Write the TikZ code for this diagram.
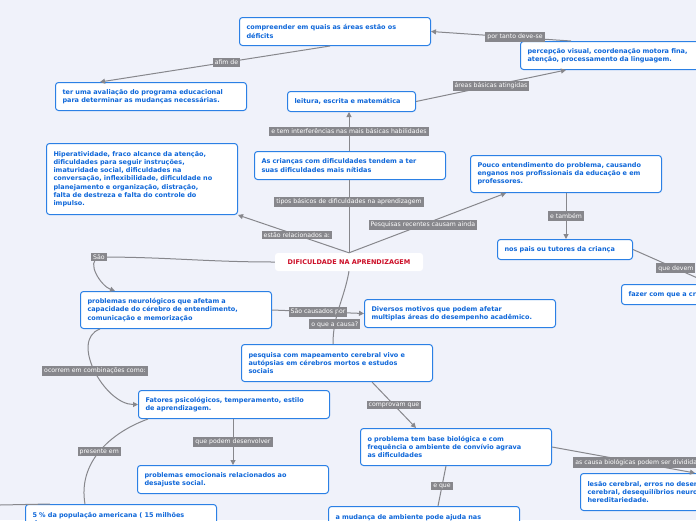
\documentclass[tikz,border=0pt]{standalone}
\usepackage{fontspec}
\setmainfont{DejaVu Sans}
\usetikzlibrary{arrows.meta}
\definecolor{mapbg}{rgb}{0.94,0.95,0.98}
\definecolor{mapblue}{rgb}{0.17,0.50,0.90}
\definecolor{maptext}{rgb}{0.05,0.40,0.85}
\definecolor{maplink}{rgb}{0.53,0.53,0.55}
\definecolor{mapred}{rgb}{0.80,0.05,0.15}
\tikzset{
  topic/.style={draw=mapblue, line width=1pt, rounded corners=3pt, fill=white,
    text=maptext, font=\fontsize{6.5}{8.2}\selectfont\bfseries, align=left,
    anchor=north west, inner xsep=7pt, text width=177pt, minimum height=28pt},
  lbl/.style={fill=maplink, text=white, font=\fontsize{6.2}{7}\selectfont, inner sep=2pt},
  link/.style={draw=maplink, line width=1pt},
  arr/.style={link, -{Triangle[length=5pt,width=5pt]}}
}
\begin{document}
\begin{tikzpicture}[x=1pt,y=-1pt]
  \fill[mapbg] (0,0) rectangle (696,520);
  \clip (0,0) rectangle (696,520);
  % main topic
  \node[fill=white, rounded corners=3pt, text=mapred, font=\fontsize{6.5}{8}\selectfont\bfseries,
    minimum width=148pt, minimum height=18pt] (root) at (349,262) {DIFICULDADE NA APRENDIZAGEM};
  % upper branch
  \node[topic] (criancas) at (254,151) {As crianças com dificuldades tendem a ter\\ suas dificuldades mais nítidas};
  \node[topic, text width=114pt, minimum height=20pt] (leitura) at (287,91) {leitura, escrita e matemática};
  \node[topic] (percep) at (520,41) {percepção visual, coordenação motora fina,\\ atenção, processamento da linguagem.};
  \node[topic] (compr) at (239,17) {compreender em quais as áreas estão os\\ déficits};
  \node[topic] (aval) at (55,82) {ter uma avaliação do programa educacional\\ para determinar as mudanças necessárias.};
  \node[topic, minimum height=71pt] (hiper) at (46,143) {Hiperatividade, fraco alcance da atenção,\\ dificuldades para seguir instruções,\\ imaturidade social, dificuldades na\\ conversação, inflexibilidade, dificuldade no\\ planejamento e organização, distração,\\ falta de destreza e falta do controle do\\ impulso.};
  \node[topic, minimum height=37pt] (pouco) at (470,155) {Pouco entendimento do problema, causando\\ enganos nos profissionais da educação e em\\ professores.};
  \node[topic, text width=121pt, minimum height=20pt] (pais) at (497,239) {nos pais ou tutores da criança};
  \node[topic, minimum height=20pt] (fazer) at (621,284) {fazer com que a criança};
  % lower branch
  \node[topic, minimum height=37pt] (neuro) at (80,291) {problemas neurológicos que afetam a\\ capacidade do cérebro de entendimento,\\ comunicação e memorização};
  \node[topic] (motivos) at (364,299) {Diversos motivos que podem afetar\\ multiplas áreas do desempenho acadêmico.};
  \node[topic, minimum height=37pt] (pesq) at (241,344) {pesquisa com mapeamento cerebral vivo e\\ autópsias em cérebros mortos e estudos\\ sociais};
  \node[topic] (fatores) at (138,390) {Fatores psicológicos, temperamento, estilo\\ de aprendizagem.};
  \node[topic] (emoc) at (137,465) {problemas emocionais relacionados ao\\ desajuste social.};
  \node[topic, minimum height=37pt] (base) at (360,428) {o problema tem base biológica e com\\ frequência o ambiente de convívio agrava\\ as dificuldades};
  \node[topic, minimum height=37pt] (lesao) at (580,473) {lesão cerebral, erros no desenvolvimento\\ cerebral, desequilíbrios neurológicos e\\ hereditariedade.};
  \node[topic, minimum height=30pt] (pop) at (25,504) {5 \% da população americana ( 15 milhões\\ de pessoas};
  \node[topic, minimum height=30pt] (mudanca) at (328,506) {a mudança de ambiente pode ajuda nas\\ dificuldades};
  \coordinate (offleft) at (0,505);
  %
  \draw[link] (root.north) -- node[lbl, pos=0.7]{tipos básicos de dificuldades na aprendizagem} (criancas.south -| root.north);
  \draw[arr] (criancas.north -| root.north) -- node[lbl, pos=0.5]{e tem interferências nas mais básicas habilidades} (leitura.south -| root.north);
  \draw[arr] (leitura.east) -- node[lbl]{áreas básicas atingidas} ([xshift=-50pt]percep.south);
  \draw[arr] ([xshift=-45pt]percep.north) -- node[lbl, pos=0.4]{por tanto deve-se} (compr.east);
  \draw[arr] ([xshift=-5pt]compr.south) -- node[lbl, pos=0.45]{afim de} ([xshift=45pt]aval.north west);
  \draw[arr] (root.north) -- node[lbl, pos=0.47]{estão relacionados a:} (hiper.south east);
  \draw[arr] (root.north) -- node[lbl, pos=0.47]{Pesquisas recentes causam ainda} ([xshift=-60pt]pouco.south);
  \draw[arr] (pouco.south) -- node[lbl]{e também} (pais.north -| pouco.south);
  \draw[arr] (pais.east) -- node[lbl, pos=0.55]{que devem} ([xshift=90pt]fazer.north west);
  \draw[arr] (root.west) to[out=180, in=0] (99,257) node[lbl]{São} to[out=200, in=160] ([xshift=35pt]neuro.north west);
  \draw[arr] (neuro.east) -- node[lbl, pos=0.5]{São causados por} (motivos.west);
  \draw[link] (root.south) to[out=260, in=90] node[lbl, pos=0.75]{o que a causa?} ([xshift=-4pt]pesq.north);
  \draw[arr] ([xshift=35pt]pesq.south) -- node[lbl]{comprovam que} ([xshift=-40pt]base.north);
  \draw[arr] ([xshift=20pt]neuro.south west) to[out=200, in=180] node[lbl, pos=0.5]{ocorrem em combinações como:} (fatores.west);
  \draw[arr] (fatores.south -| emoc.north) -- node[lbl]{que podem desenvolver} (emoc.north);
  \draw[link] ([xshift=10pt]fatores.south west) to[out=200, in=100] node[lbl, pos=0.5]{presente em} ([xshift=60pt]pop.north west);
  \draw[link] (offleft) -- ([xshift=25pt]pop.north west);
  \draw[arr] (base.east) -- node[lbl, pos=0.6]{as causa biológicas podem ser divididas} ([xshift=115pt]lesao.north west);
  \draw[link] ([xshift=-10pt]base.south) -- node[lbl]{e que} ([xshift=110pt]mudanca.north west);
\end{tikzpicture}
\end{document}
